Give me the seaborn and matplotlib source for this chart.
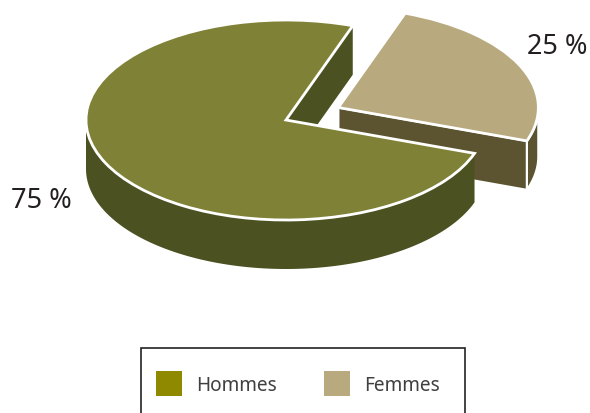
# plot.py - pie 3D Hommes / Femmes
import numpy as np
import seaborn as sns
import matplotlib
matplotlib.use('Agg')
import matplotlib.pyplot as plt
from matplotlib.patches import Polygon, Patch, Rectangle

sns.set_theme(style='white')
plt.rcParams['font.family'] = ['Noto Sans', 'DejaVu Sans']

# Data
categories = ['Hommes', 'Femmes']
shares = [75, 25]
top_colors = ['#7f8136', '#b8aa7e']
side_colors = ['#4c5122', '#5c5430']
legend_colors = ['#8f8900', '#b8aa7e']

W, H = 590, 414
depth = 0.49
fig = plt.figure(figsize=(W / 100, H / 100), dpi=100)
ax = fig.add_axes([0, 0, 1, 1])

wedges, _ = ax.pie(shares, colors=top_colors, startangle=70.5, explode=[0, 0.29],
                   wedgeprops={'edgecolor': 'white', 'linewidth': 2.0})

# ellipse: 200 px wide radius, 100 px high radius, centre at (286, 121)
ax.set_aspect('auto')
ax.set_xlim(-286 / 200, (W - 286) / 200)
ax.set_ylim((121 - H) / 100, 121 / 100)
ax.axis('off')


def add_walls(wedge, color, edge, z):
    cx, cy = wedge.center
    # cut face on the front side
    t = np.radians(wedge.theta1)
    px, py = cx + np.cos(t), cy + np.sin(t)
    face = [(cx, cy), (px, py), (px, py - depth), (cx, cy - depth)]
    # outer wall, only the lower half of the ellipse shows
    a = max(wedge.theta1, 180)
    b = min(wedge.theta2, 360)
    th = np.radians(np.linspace(a, b, 120))
    x = cx + np.cos(th)
    y = cy + np.sin(th)
    outer = list(zip(x, y)) + list(zip(x[::-1], y[::-1] - depth))
    for pts in [outer, face]:
        ax.add_patch(Polygon(pts, closed=True, facecolor=color, edgecolor=edge,
                             linewidth=1.6 if edge == 'white' else 0, zorder=z))


# back slice first, the big one covers it
add_walls(wedges[1], side_colors[1], 'white', 1)
wedges[1].set_zorder(2)
add_walls(wedges[0], side_colors[0], 'none', 3)
wedges[0].set_zorder(4)

# labels
fig.text(11 / W, 1 - 201 / H, f'{shares[0]} %', fontsize=19.5, color='#231f20', ha='left', va='center')
fig.text(527 / W, 1 - 47 / H, f'{shares[1]} %', fontsize=19.5, color='#231f20', ha='left', va='center')

# legend, the box runs off the bottom of the picture
fig.add_artist(Rectangle((141 / W, -10 / H), 324 / W, 75 / H, transform=fig.transFigure,
                         facecolor='none', edgecolor='#222222', linewidth=1.2))
handles = [Patch(facecolor=c, edgecolor='none') for c in legend_colors]
fig.legend(handles, categories, loc='upper left', bbox_to_anchor=(156 / W, 1 - 371.5 / H),
           ncol=2, frameon=False, fontsize=13.7, borderpad=0, borderaxespad=0,
           handlelength=1.366, handleheight=1.725, handletextpad=0.72, columnspacing=2.52,
           labelcolor='#3f3f3f')

plt.savefig('out.png', dpi=100)
